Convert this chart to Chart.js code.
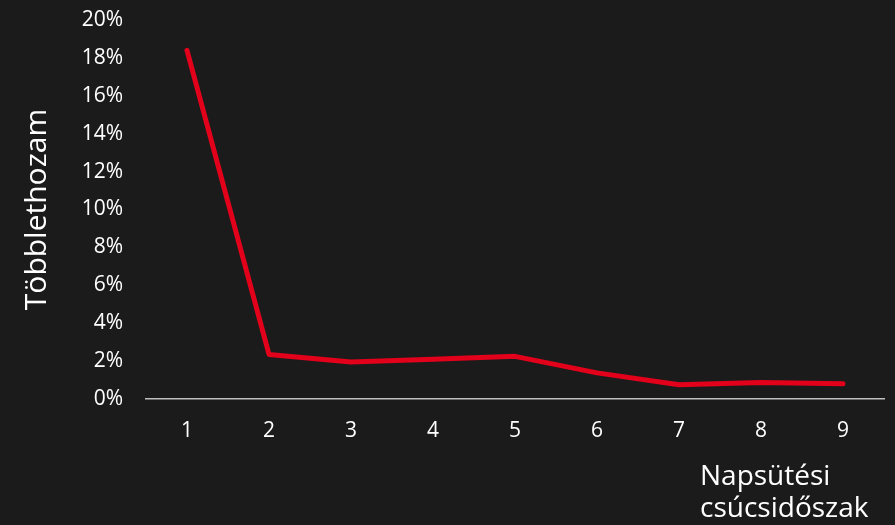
<!DOCTYPE html>
<html>
<head>
<meta charset="utf-8">
<script src="https://cdn.jsdelivr.net/npm/chart.js@4/dist/chart.umd.min.js"></script>
<style>
  html, body { margin: 0; padding: 0; background: #1b1b1b; }
  #wrap { width: 895px; height: 525px; position: relative; }
</style>
</head>
<body>
<div id="wrap"><canvas id="c" width="895" height="525"></canvas></div>
<script>
const categories = ['1', '2', '3', '4', '5', '6', '7', '8', '9'];
const excessReturn = [18.4, 2.35, 1.95, 2.1, 2.25, 1.38, 0.75, 0.87, 0.8];
const yTitle = 'Többlethozam';
const xTitleLines = ['Napsütési', 'csúcsidőszak'];

const FONT = "'Open Sans', 'Noto Sans', sans-serif";

const xTitlePlugin = {
  id: 'xTitle',
  afterDraw(chart) {
    const { ctx, chartArea } = chart;
    ctx.save();
    ctx.fillStyle = '#ffffff';
    ctx.font = "28px " + FONT;
    ctx.textAlign = 'left';
    ctx.textBaseline = 'middle';
    const x = chartArea.right - 184;
    xTitleLines.forEach((t, i) => ctx.fillText(t, x, chartArea.bottom + 78 + i * 32));
    ctx.restore();
  }
};

const bgPlugin = {
  id: 'bg',
  beforeDraw(chart) {
    const { ctx, width, height } = chart;
    ctx.save();
    ctx.fillStyle = '#1b1b1b';
    ctx.fillRect(0, 0, width, height);
    ctx.restore();
  }
};

new Chart(document.getElementById('c'), {
  type: 'line',
  data: {
    labels: categories,
    datasets: [{
      data: excessReturn,
      borderColor: '#e3001b',
      borderWidth: 5,
      pointRadius: 0,
      tension: 0,
      borderCapStyle: 'round',
      borderJoinStyle: 'round',
      fill: false
    }]
  },
  options: {
    responsive: false,
    animation: false,
    devicePixelRatio: 1,
    layout: { padding: { top: 20, right: 11, left: 0, bottom: 0 } },
    plugins: { legend: { display: false }, tooltip: { enabled: false } },
    scales: {
      x: {
        offset: true,
        grid: { display: false, drawTicks: false },
        border: { display: true, color: '#bfbfbf', width: 1.5 },
        ticks: { color: '#ffffff', font: { family: FONT, size: 21 }, padding: 19 },
        afterFit(scale) { scale.height = 126; }
      },
      y: {
        min: 0, max: 20,
        grid: {
          display: true,
          drawOnChartArea: false,
          drawTicks: true,
          tickLength: 23,
          color: 'rgba(0,0,0,0)'
        },
        border: { display: false },
        ticks: {
          stepSize: 2,
          color: '#ffffff',
          font: { family: FONT, size: 21 },
          padding: 0,
          callback: v => v + '%'
        },
        title: {
          display: true,
          text: yTitle,
          color: '#ffffff',
          font: { family: FONT, size: 30 },
          padding: { top: 19, bottom: 0 }
        },
        afterFit(scale) { scale.width = 146; }
      }
    }
  },
  plugins: [bgPlugin, xTitlePlugin]
});
</script>
</body>
</html>
